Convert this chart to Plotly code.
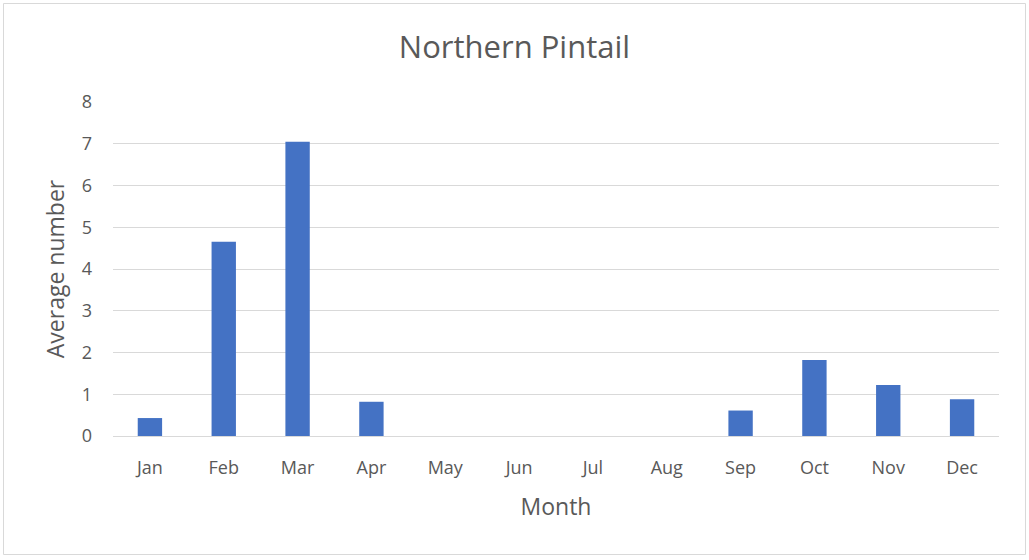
import plotly.graph_objs as go

# data
months = ['Jan', 'Feb', 'Mar', 'Apr', 'May', 'Jun',
          'Jul', 'Aug', 'Sep', 'Oct', 'Nov', 'Dec']
avg_number = [0.43, 4.65, 7.05, 0.82, 0, 0, 0, 0, 0.61, 1.82, 1.22, 0.88]
y_ticks = [0, 1, 2, 3, 4, 5, 6, 7, 8]

font_family = 'Open Sans, Liberation Sans, sans-serif'
text_color = '#595959'
grid_color = '#d9d9d9'

W, H = 1029, 560
L, R, T, B = 113, 30, 102, 124
pw, ph = W - L - R, H - T - B


def px_x(p):
    return (p - L) / pw


def px_y(p):
    return (H - B - p) / ph


fig = go.Figure(go.Bar(x=months, y=avg_number,
                       marker=dict(color='#4472c4', line=dict(width=0)),
                       width=0.33, hoverinfo='x+y'))

fig.update_layout(
    width=W, height=H,
    margin=dict(l=L, r=R, t=T, b=B),
    paper_bgcolor='white', plot_bgcolor='white',
    showlegend=False,
    font=dict(family=font_family, color=text_color),
    title=dict(text='Northern Pintail', x=0.5, xanchor='center',
               y=1 - 47 / H, yanchor='middle',
               font=dict(size=31, color=text_color)),
    xaxis=dict(title=dict(text='Month', font=dict(size=23), standoff=20),
               tickfont=dict(size=18), showgrid=False, showline=False,
               ticks='', ticklabelstandoff=19),
    yaxis=dict(title=dict(text='Average number', font=dict(size=23), standoff=10),
               range=[0, 8], tickvals=y_ticks, tickfont=dict(size=18),
               showgrid=True, gridcolor=grid_color, gridwidth=1,
               zeroline=True, zerolinecolor=grid_color, zerolinewidth=1,
               showline=False, ticks='', ticklabelstandoff=20),
    shapes=[dict(type='rect', xref='paper', yref='paper',
                 x0=px_x(3.5), x1=px_x(1025.5), y0=px_y(554.5), y1=px_y(3.5),
                 line=dict(color='#d9d9d9', width=1), layer='below')],
    bargap=0.67,
)

fig.write_html('out.html', config={'displayModeBar': False},
               post_script="document.body.style.margin='0';"
                           "document.body.style.overflow='hidden';")
